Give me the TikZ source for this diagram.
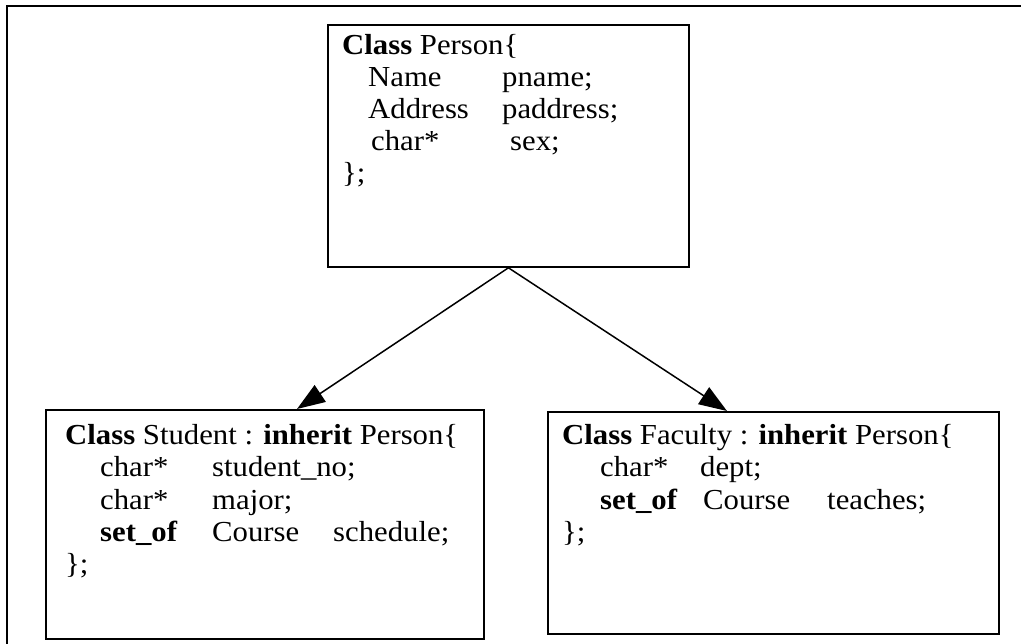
\documentclass[tikz,border=0pt]{standalone}
\usepackage{fontspec}
\setmainfont{Liberation Serif}[FakeStretch=1.06]
\usetikzlibrary{arrows.meta}
\begin{document}
\begin{tikzpicture}[x=1pt,y=-1pt,
  classbox/.style={draw, line width=1.8pt, rectangle, inner sep=0pt, anchor=north west},
  code/.style={anchor=base west, inner sep=0pt, font=\fontsize{29}{32}\selectfont},
  inherits/.style={-{Triangle[length=28pt,width=20pt]}, line width=1.5pt}]
\useasboundingbox (0,0) rectangle (1021,644);
% outer frame (open at right and bottom)
\draw[line width=1.8pt] (7,644) -- (7,6) -- (1021,6);

% class boxes
\node[classbox, minimum width=361pt, minimum height=242pt] (person) at (327,24) {};
\node[classbox, minimum width=438pt, minimum height=229pt] (student) at (45,409) {};
\node[classbox, minimum width=451pt, minimum height=222pt] (faculty) at (547,411) {};

% Person
\node[code] (p1) at (342,55) {\textbf{Class} Person\{};
\node[code] (p2a) at (368,87) {Name};
\node[code] (p2b) at (502,87) {pname;};
\node[code] (p3a) at (368,119) {Address};
\node[code] (p3b) at (502,119) {paddress;};
\node[code] (p4a) at (371,151) {char*};
\node[code] (p4b) at (510,151) {sex;};
\node[code] (p5) at (342,183) {\};};

% Student
\node[code] (s1) at (65,445) {\textbf{Class} Student : \textbf{inherit} Person\{};
\node[code] (s2a) at (100,477) {char*};
\node[code] (s2b) at (212,477) {student\_no;};
\node[code] (s3a) at (100,509) {char*};
\node[code] (s3b) at (212,509) {major;};
\node[code] (s4a) at (100,541) {\textbf{set\_of}};
\node[code] (s4b) at (212,541) {Course};
\node[code] (s4c) at (333,541) {schedule;};
\node[code] (s5) at (65,573) {\};};

% Faculty
\node[code] (f1) at (562,445) {\textbf{Class} Faculty : \textbf{inherit} Person\{};
\node[code] (f2a) at (600,477) {char*};
\node[code] (f2b) at (700,477) {dept;};
\node[code] (f3a) at (600,509) {\textbf{set\_of}};
\node[code] (f3b) at (703,509) {Course};
\node[code] (f3c) at (827,509) {teaches;};
\node[code] (f4) at (562,541) {\};};

% inheritance arrows
\draw[inherits] (person.south) -- ([xshift=252pt]student.north west);
\draw[inherits] (person.south) -- ([xshift=180pt]faculty.north west);
\end{tikzpicture}
\end{document}
